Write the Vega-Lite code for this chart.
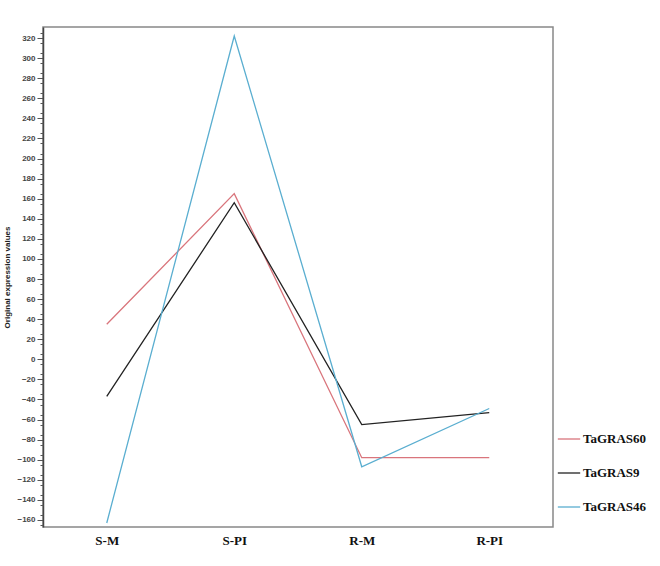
{
  "$schema": "https://vega.github.io/schema/vega-lite/v6.json",
  "width": 510,
  "height": 500,
  "autosize": {"type": "none"},
  "padding": {"left": 43, "top": 27, "right": 107, "bottom": 39},
  "background": "white",
  "config": {
    "view": {"stroke": "#888888", "strokeWidth": 1.5},
    "axis": {"grid": false}
  },
  "data": {
    "values": [
      {"group": "S-M", "gene": "TaGRAS60", "value": 35},
      {"group": "S-PI", "gene": "TaGRAS60", "value": 165},
      {"group": "R-M", "gene": "TaGRAS60", "value": -98},
      {"group": "R-PI", "gene": "TaGRAS60", "value": -98},
      {"group": "S-M", "gene": "TaGRAS9", "value": -37},
      {"group": "S-PI", "gene": "TaGRAS9", "value": 156},
      {"group": "R-M", "gene": "TaGRAS9", "value": -65},
      {"group": "R-PI", "gene": "TaGRAS9", "value": -53},
      {"group": "S-M", "gene": "TaGRAS46", "value": -163},
      {"group": "S-PI", "gene": "TaGRAS46", "value": 322},
      {"group": "R-M", "gene": "TaGRAS46", "value": -107},
      {"group": "R-PI", "gene": "TaGRAS46", "value": -49}
    ]
  },
  "layer": [
    {
      "mark": {"type": "line", "strokeWidth": 1.3},
      "encoding": {
        "x": {
          "field": "group",
          "type": "ordinal",
          "sort": ["S-M", "S-PI", "R-M", "R-PI"],
          "scale": {"type": "point", "padding": 0.5},
          "axis": {
            "title": null,
            "domain": false,
            "ticks": false,
            "labelAngle": 0,
            "labelFont": "Liberation Serif",
            "labelFontWeight": "bold",
            "labelFontSize": 13,
            "labelColor": "#111111",
            "labelPadding": 7
          }
        },
        "y": {
          "field": "value",
          "type": "quantitative",
          "scale": {"domain": [-167, 331], "nice": false, "zero": false},
          "axis": {
            "title": "Original expression values",
            "titleFont": "Liberation Sans",
            "titleFontSize": 8,
            "titleFontWeight": "bold",
            "titleColor": "#222222",
            "titlePadding": 5,
            "values": [-160,-140,-120,-100,-80,-60,-40,-20,0,20,40,60,80,100,120,140,160,180,200,220,240,260,280,300,320],
            "labelFont": "Liberation Sans",
            "labelFontSize": 8,
            "labelFontWeight": "bold",
            "labelColor": "#444444",
            "labelPadding": 2,
            "tickSize": 6,
            "tickColor": "#555555",
            "domainColor": "#444444",
            "domainWidth": 1.5
          }
        },
        "color": {
          "field": "gene",
          "type": "nominal",
          "sort": ["TaGRAS60", "TaGRAS9", "TaGRAS46"],
          "scale": {
            "domain": ["TaGRAS60", "TaGRAS9", "TaGRAS46"],
            "range": ["#d9757c", "#222222", "#5aaed0"]
          },
          "legend": {
            "title": null,
            "orient": "none",
            "legendX": 514,
            "legendY": 400,
            "symbolType": "stroke",
            "symbolSize": 500,
            "symbolStrokeWidth": 1.3,
            "rowPadding": 15,
            "labelFont": "Liberation Serif",
            "labelFontWeight": "bold",
            "labelFontSize": 13,
            "labelColor": "#111111",
            "labelOffset": 2
          }
        }
      }
    },
    {
      "mark": {"type": "rule", "opacity": 0},
      "encoding": {
        "y": {
          "field": "value",
          "type": "quantitative",
          "axis": {
            "orient": "left",
            "title": null,
            "labels": false,
            "domain": false,
            "values": [-165,-155,-145,-135,-125,-115,-105,-95,-85,-75,-65,-55,-45,-35,-25,-15,-5,5,15,25,35,45,55,65,75,85,95,105,115,125,135,145,155,165,175,185,195,205,215,225,235,245,255,265,275,285,295,305,315,325],
            "tickSize": 3,
            "tickColor": "#555555"
          }
        }
      }
    }
  ],
  "resolve": {"axis": {"y": "independent"}}
}
